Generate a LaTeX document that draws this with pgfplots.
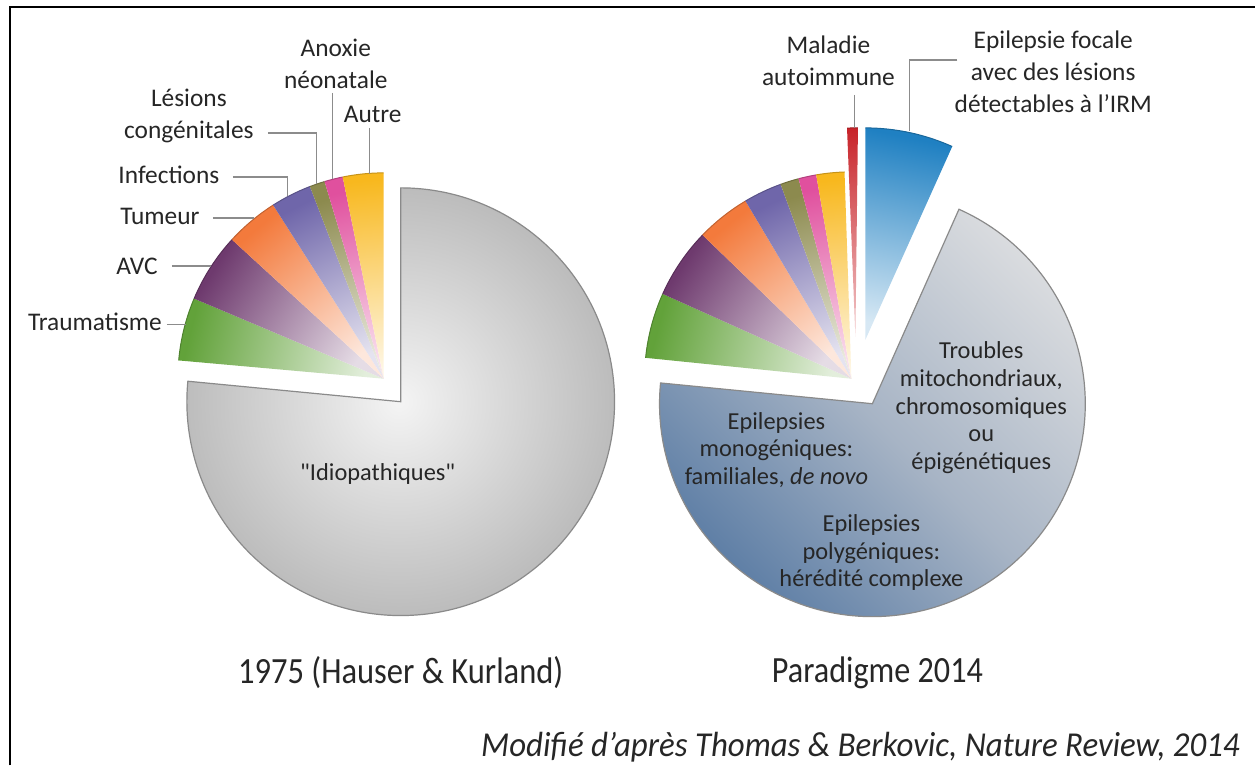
\documentclass[border=0pt]{standalone}
\usepackage{pgfplots}
\pgfplotsset{compat=1.18}
\usepackage{fontspec}
\setmainfont{Carlito}
\newfontfamily\rawf{Carlito}
\usepackage{graphicx}

\definecolor{txt}{HTML}{262626}
\definecolor{lead}{HTML}{8C8C8C}
\definecolor{cGreen}{HTML}{62A23A}
\definecolor{cAVC}{HTML}{6E3A6E}
\definecolor{cOrange}{HTML}{F37A3C}
\definecolor{cLav}{HTML}{6F66AA}
\definecolor{cOlive}{HTML}{8C8A4E}
\definecolor{cPink}{HTML}{E0509E}
\definecolor{cYellow}{HTML}{F8B81E}
\definecolor{cRed}{HTML}{C8242A}
\definecolor{cBlue}{HTML}{1F80C2}
\definecolor{gEdge}{HTML}{8A8A8A}
\definecolor{gIn}{HTML}{F4F4F4}
\definecolor{gOut}{HTML}{BCBCBC}
\definecolor{bLight}{HTML}{DADCDF}
\definecolor{bMid}{HTML}{A7B4C5}
\definecolor{bDark}{HTML}{587AA3}

\tikzset{leader/.style={draw=lead, line width=0.7pt}}

% apex x, apex y (pixels), start angle, end angle, radius (pixels), rim colour, pale colour
\newcommand{\slice}[7]{%
  \path[top color=#6, bottom color=#7, shading angle={(#3+#4)/2-90}]
    (axis cs:#1,#2) -- ++(#3:#5*0.5pt) arc[start angle=#3, end angle=#4, radius=#5*0.5pt] -- cycle;
  \draw[#6!80!black, line width=0.5pt]
    (axis cs:#1,#2) ++(#3:#5*0.5pt) arc[start angle=#3, end angle=#4, radius=#5*0.5pt];
}
\newcommand{\labf}{\fontsize{12.7}{16}\selectfont}
\newcommand{\innf}{\fontsize{12.2}{13.8}\selectfont}
\newcommand{\bigf}{\fontsize{18.5}{22}\selectfont}
\newcommand{\itf}{\fontsize{17.5}{21}\selectfont\itshape}

\begin{document}
\begin{tikzpicture}
\begin{axis}[
  x=0.5pt, y=0.5pt, y dir=reverse,
  xmin=0, xmax=1256, ymin=0, ymax=766,
  hide axis, clip=false,
]
\path (axis cs:0,0) rectangle (axis cs:1256,766);
% frame
\draw[black, line width=0.9pt] (axis cs:10,766) -- (axis cs:10,7) -- (axis cs:1256,7);

% ---------- 1975 pie ----------
\path[draw=gEdge, line width=0.6pt, inner color=gIn, outer color=gOut]
  (axis cs:401,402) -- ++(90:107pt) arc[start angle=90, end angle=-185.5, radius=107pt] -- cycle;
\slice{384}{379}{157.1}{174.9}{206}{cGreen}{cGreen!18!white}
\slice{384}{379}{137.5}{157.1}{206}{cAVC}{cAVC!18!white}
\slice{384}{379}{122.5}{137.5}{206}{cOrange}{cOrange!18!white}
\slice{384}{379}{111.0}{122.5}{206}{cLav}{cLav!18!white}
\slice{384}{379}{106.7}{111.0}{206}{cOlive}{cOlive!18!white}
\slice{384}{379}{101.5}{106.7}{206}{cPink}{cPink!18!white}
\slice{384}{379}{90.0}{101.5}{206}{cYellow}{cYellow!12!white}

% ---------- 2014 pie ----------
\path[draw=gEdge, line width=0.6pt, top color=bLight, bottom color=bDark, middle color=bMid, shading angle=-45]
  (axis cs:873,404) -- ++(66:106.5pt) arc[start angle=66, end angle=-185.6, radius=106.5pt] -- cycle;
\slice{852}{379}{155.8}{174.2}{207}{cGreen}{cGreen!18!white}
\slice{852}{379}{136.0}{155.8}{207}{cAVC}{cAVC!18!white}
\slice{852}{379}{120.8}{136.0}{207}{cOrange}{cOrange!18!white}
\slice{852}{379}{110.0}{120.8}{207}{cLav}{cLav!18!white}
\slice{852}{379}{104.8}{110.0}{207}{cOlive}{cOlive!18!white}
\slice{852}{379}{99.8}{104.8}{207}{cPink}{cPink!18!white}
\slice{852}{379}{91.9}{99.8}{207}{cYellow}{cYellow!12!white}
\slice{856}{337}{89.3}{92.3}{209}{cRed}{cRed!25!white}
\slice{866}{340}{65.8}{90.0}{212}{cBlue}{cBlue!18!white}

% ---------- leader lines ----------
\draw[leader] (axis cs:268,133) -- (axis cs:317,133) -- (axis cs:317,184);
\draw[leader] (axis cs:333,93) -- (axis cs:333,179);
\draw[leader] (axis cs:370,128) -- (axis cs:370,174);
\draw[leader] (axis cs:233,177) -- (axis cs:288,177) -- (axis cs:288,196);
\draw[leader] (axis cs:213,218) -- (axis cs:254,218);
\draw[leader] (axis cs:172,266) -- (axis cs:211,266);
\draw[leader] (axis cs:167,325) -- (axis cs:186,325);
\draw[leader] (axis cs:855,95) -- (axis cs:855,128);
\draw[leader] (axis cs:958,60) -- (axis cs:910,60) -- (axis cs:910,131);

% ---------- labels ----------
\node[font=\labf, text=txt, align=center] at (axis cs:336,64) {Anoxie\\néonatale};
\node[font=\labf, text=txt] at (axis cs:373,115) {Autre};
\node[font=\labf, text=txt, align=center] at (axis cs:189,116) {Lésions\\congénitales};
\node[font=\labf, text=txt] at (axis cs:169,175) {Infections};
\node[font=\labf, text=txt] at (axis cs:160,217) {Tumeur};
\node[font=\labf, text=txt] at (axis cs:137,267) {AVC};
\node[font=\labf, text=txt] at (axis cs:95,322) {Traumatisme};
\node[font=\labf, text=txt, align=center] at (axis cs:829,61) {Maladie\\autoimmune};
\node[font=\labf, text=txt, align=center] at (axis cs:1054,72) {Epilepsie focale\\avec des lésions\\détectables à l'IRM};

\node[font=\innf, text=txt] at (axis cs:378,474) {{\rawf "}Idiopathiques{\rawf "}};
\node[font=\innf, text=txt, align=center] at (axis cs:982,408) {Troubles\\mitochondriaux,\\chromosomiques\\ou\\épigénétiques};
\node[font=\innf, text=txt, align=center] at (axis cs:777,450) {Epilepsies\\monogéniques:\\familiales, \textit{de novo}};
\node[font=\innf, text=txt, align=center] at (axis cs:872,553) {Epilepsies\\polygéniques:\\hérédité complexe};

\node[text=txt] at (axis cs:401,673) {\scalebox{0.88}[1]{\bigf 1975 (Hauser \& Kurland)}};
\node[text=txt] at (axis cs:878,673) {\scalebox{0.87}[1]{\bigf Paradigme 2014}};
\node[text=txt] at (axis cs:861,748) {\scalebox{0.94}[1]{\itf Modifié d'après Thomas \& Berkovic, Nature Review, 2014}};
\end{axis}
\end{tikzpicture}
\end{document}
